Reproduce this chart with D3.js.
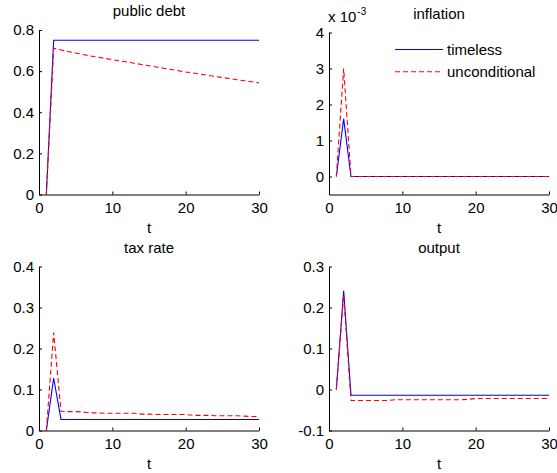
<!DOCTYPE html>
<html lang="en">
	<head>
		<meta charset="utf-8">
		<title>Timeless vs unconditional</title>
		<script src="https://d3js.org/d3.v7.min.js"></script>
		<style type="text/css">
            body { margin: 0; background: #fff; }
            svg { display: block; }
            text { font-family: "Liberation Sans", Arial, sans-serif; fill: #000; }
		</style>
	</head>
	<body>
        <svg></svg>
		<script type="text/javascript">

			// data, t = 1..30
			var t = d3.range(1, 31);

			var debtTimeless = [0, 0.75, 0.75, 0.75, 0.75, 0.75, 0.75, 0.75, 0.75, 0.75,
				0.75, 0.75, 0.75, 0.75, 0.75, 0.75, 0.75, 0.75, 0.75, 0.75,
				0.75, 0.75, 0.75, 0.75, 0.75, 0.75, 0.75, 0.75, 0.75, 0.75];
			var debtUncond = [0, 0.711, 0.703, 0.695, 0.688, 0.681, 0.674, 0.668, 0.662, 0.656,
				0.650, 0.644, 0.638, 0.632, 0.626, 0.620, 0.614, 0.608, 0.602, 0.596,
				0.591, 0.585, 0.580, 0.574, 0.569, 0.564, 0.558, 0.553, 0.548, 0.543];

			// inflation in units of 10^-3
			var inflTimeless = [0, 1.6, 0, 0, 0, 0, 0, 0, 0, 0,
				0, 0, 0, 0, 0, 0, 0, 0, 0, 0,
				0, 0, 0, 0, 0, 0, 0, 0, 0, 0];
			var inflUncond = [0, 3.0, 0, 0, 0, 0, 0, 0, 0, 0,
				0, 0, 0, 0, 0, 0, 0, 0, 0, 0,
				0, 0, 0, 0, 0, 0, 0, 0, 0, 0];

			var taxTimeless = [0, 0.128, 0.027, 0.027, 0.027, 0.027, 0.027, 0.027, 0.027, 0.027,
				0.027, 0.027, 0.027, 0.027, 0.027, 0.027, 0.027, 0.027, 0.027, 0.027,
				0.027, 0.027, 0.027, 0.027, 0.027, 0.027, 0.027, 0.027, 0.027, 0.027];
			var taxUncond = [0, 0.239, 0.047, 0.046, 0.046, 0.045, 0.043, 0.043, 0.042, 0.042,
				0.042, 0.042, 0.042, 0.040, 0.040, 0.039, 0.039, 0.039, 0.039, 0.039,
				0.037, 0.037, 0.037, 0.036, 0.036, 0.036, 0.036, 0.035, 0.034, 0.034];

			var outTimeless = [0, 0.241, -0.014, -0.014, -0.014, -0.014, -0.014, -0.014, -0.014, -0.014,
				-0.014, -0.014, -0.014, -0.014, -0.014, -0.014, -0.014, -0.014, -0.014, -0.014,
				-0.014, -0.014, -0.014, -0.014, -0.014, -0.014, -0.014, -0.014, -0.014, -0.014];
			var outUncond = [0, 0.231, -0.027, -0.027, -0.027, -0.027, -0.027, -0.027, -0.025, -0.025,
				-0.025, -0.025, -0.025, -0.025, -0.025, -0.025, -0.025, -0.025, -0.024, -0.022,
				-0.022, -0.022, -0.022, -0.022, -0.022, -0.022, -0.022, -0.022, -0.022, -0.022];

			// tick labels
			var xTicks = [0, 10, 20, 30];
			var debtTicks = ["0", "0.2", "0.4", "0.6", "0.8"];
			var inflTicks = ["0", "1", "2", "3", "4"];
			var taxTicks = ["0", "0.1", "0.2", "0.3", "0.4"];
			var outTicks = ["-0.1", "0", "0.1", "0.2", "0.3"];

			var titles = ["public debt", "inflation", "tax rate", "output"];
			var seriesNames = ["timeless", "unconditional"];

			var w = 557;
			var h = 473;

			var svg = d3.select("svg")
						.attr("width", w)
						.attr("height", h);

			// one entry per subplot
			var panels = [
				{title: titles[0], a: debtTimeless, b: debtUncond, ticks: debtTicks, ydom: [0, 0.8],
				 left: 39, right: 259, top: 30, bottom: 194.5},
				{title: titles[1], a: inflTimeless, b: inflUncond, ticks: inflTicks, ydom: [-0.5, 4],
				 left: 329, right: 549, top: 32.5, bottom: 194.5},
				{title: titles[2], a: taxTimeless, b: taxUncond, ticks: taxTicks, ydom: [0, 0.4],
				 left: 39, right: 259, top: 266.5, bottom: 430.5},
				{title: titles[3], a: outTimeless, b: outUncond, ticks: outTicks, ydom: [-0.1, 0.3],
				 left: 329, right: 549, top: 266.5, bottom: 430.5}
			];

			const FONT = 15;

			panels.forEach(function(p, k) {
				var x = d3.scaleLinear().domain([0, 30]).range([p.left, p.right]);
				var y = d3.scaleLinear().domain(p.ydom).range([p.bottom, p.top]);

				var g = svg.append("g");

				var line = d3.line()
					.x((d, i) => x(t[i]))
					.y(d => y(d));

				// timeless (solid blue)
				g.append("path")
					.datum(p.a)
					.attr("d", line)
					.attr("fill", "none")
					.attr("stroke", "#0000ff")
					.attr("stroke-width", 1.1);

				// unconditional (dashed red)
				g.append("path")
					.datum(p.b)
					.attr("d", line)
					.attr("fill", "none")
					.attr("stroke", "#ff0000")
					.attr("stroke-width", 1.1)
					.attr("stroke-dasharray", "5,3");

				// axes with matlab-style inward ticks
				var xAxis = d3.axisBottom(x)
					.tickValues(xTicks)
					.tickFormat(d3.format("d"))
					.tickSizeInner(-3)
					.tickSizeOuter(0)
					.tickPadding(8);

				var yAxis = d3.axisLeft(y)
					.tickValues(p.ticks.map(Number))
					.tickFormat((d, i) => p.ticks[i])
					.tickSizeInner(-3)
					.tickSizeOuter(0)
					.tickPadding(5);

				var gx = g.append("g")
					.attr("transform", "translate(0," + p.bottom + ")")
					.call(xAxis);
				var gy = g.append("g")
					.attr("transform", "translate(" + p.left + ",0)")
					.call(yAxis);

				[gx, gy].forEach(function(a) {
					a.select(".domain").attr("stroke", "#000");
					a.selectAll(".tick line").attr("stroke", "#000");
					a.selectAll("text")
						.attr("font-size", FONT)
						.attr("font-family", "Liberation Sans, Arial, sans-serif")
						.attr("fill", "#000");
				});

				// y axis line spans the whole range (domain path already does)
				// title
				g.append("text")
					.attr("x", (p.left + p.right) / 2)
					.attr("y", p.top - 14)
					.attr("text-anchor", "middle")
					.attr("font-size", FONT)
					.text(p.title);

				// x label
				g.append("text")
					.attr("x", (p.left + p.right) / 2)
					.attr("y", p.bottom + 38)
					.attr("text-anchor", "middle")
					.attr("font-size", FONT)
					.text("t");

				if (k === 1) {
					// exponent label
					var ex = g.append("text")
						.attr("x", 328)
						.attr("y", 22)
						.attr("font-size", FONT);
					ex.append("tspan").text("x 10");
					ex.append("tspan")
						.attr("font-size", 10)
						.attr("dy", -7)
						.attr("dx", 1)
						.text("-3");

					// legend
					var LEG_X = 395;
					var LEG_W = 48;
					seriesNames.forEach(function(name, i) {
						var ly = 49.5 + i * 22.3;
						g.append("line")
							.attr("x1", LEG_X)
							.attr("x2", LEG_X + LEG_W)
							.attr("y1", ly)
							.attr("y2", ly)
							.attr("stroke", i === 0 ? "#0000ff" : "#ff0000")
							.attr("stroke-width", 1.1)
							.attr("stroke-dasharray", i === 0 ? null : "5,3");
						g.append("text")
							.attr("x", LEG_X + LEG_W + 4)
							.attr("y", ly + 5.4)
							.attr("font-size", FONT)
							.text(name);
					});
				}
			});

		</script>
	</body>
</html>
